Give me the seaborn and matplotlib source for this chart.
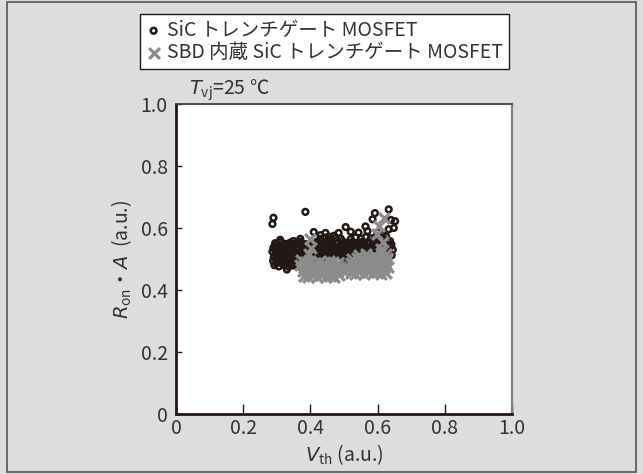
import matplotlib
matplotlib.use('Agg')
import matplotlib.pyplot as plt
from matplotlib.patches import Rectangle
import seaborn as sns
import pandas as pd

# SiC トレンチゲート MOSFET (Vth, Ron*A)
sic_pts = [
    (0.290, 0.633), (0.287, 0.613), (0.385, 0.652), (0.330, 0.466),
    (0.633, 0.660), (0.592, 0.648), (0.585, 0.628), (0.652, 0.622),
    (0.640, 0.626), (0.648, 0.600), (0.633, 0.596), (0.505, 0.603),
    (0.520, 0.588), (0.564, 0.605), (0.484, 0.584), (0.543, 0.585),
    (0.410, 0.587), (0.445, 0.584), (0.470, 0.575), (0.455, 0.572),
    (0.430, 0.577), (0.600, 0.585), (0.615, 0.578), (0.570, 0.590),
    (0.310, 0.562), (0.350, 0.558), (0.370, 0.565),
    (0.642, 0.512), (0.645, 0.530), (0.641, 0.547), (0.637, 0.558),
    (0.293, 0.480), (0.306, 0.476), (0.319, 0.481), (0.334, 0.475),
    (0.348, 0.479), (0.362, 0.477), (0.376, 0.482), (0.389, 0.478),
    (0.299, 0.486), (0.312, 0.488), (0.326, 0.484), (0.340, 0.487),
    (0.354, 0.485), (0.368, 0.489), (0.382, 0.486),
    (0.289, 0.494), (0.301, 0.490), (0.314, 0.496), (0.327, 0.492),
    (0.341, 0.495), (0.355, 0.491), (0.369, 0.494), (0.382, 0.490),
    (0.396, 0.497), (0.500, 0.478), (0.508, 0.490), (0.515, 0.482),
    (0.297, 0.500), (0.310, 0.503), (0.324, 0.499), (0.338, 0.502),
    (0.351, 0.498), (0.365, 0.503), (0.378, 0.500), (0.391, 0.501),
    (0.291, 0.506), (0.304, 0.511), (0.317, 0.504), (0.331, 0.509),
    (0.344, 0.512), (0.358, 0.505), (0.371, 0.508), (0.385, 0.503),
    (0.398, 0.510), (0.412, 0.507), (0.426, 0.512), (0.440, 0.505),
    (0.455, 0.509), (0.470, 0.504), (0.485, 0.511), (0.500, 0.506),
    (0.513, 0.508), (0.527, 0.512), (0.540, 0.503), (0.555, 0.509),
    (0.570, 0.506), (0.585, 0.511), (0.600, 0.505), (0.615, 0.510),
    (0.628, 0.507),
    (0.297, 0.515), (0.311, 0.518), (0.324, 0.514), (0.338, 0.517),
    (0.351, 0.516), (0.365, 0.519), (0.378, 0.513), (0.392, 0.516),
    (0.405, 0.518), (0.419, 0.514), (0.433, 0.517), (0.447, 0.515),
    (0.462, 0.519), (0.477, 0.514), (0.492, 0.516), (0.506, 0.518),
    (0.520, 0.513), (0.534, 0.517), (0.548, 0.515), (0.562, 0.519),
    (0.577, 0.514), (0.592, 0.516), (0.607, 0.518), (0.621, 0.515),
    (0.287, 0.524), (0.300, 0.520), (0.314, 0.526), (0.328, 0.521),
    (0.342, 0.525), (0.356, 0.519), (0.369, 0.523), (0.383, 0.527),
    (0.397, 0.520), (0.410, 0.524), (0.424, 0.518), (0.438, 0.526),
    (0.452, 0.522), (0.466, 0.525), (0.480, 0.520), (0.494, 0.527),
    (0.508, 0.521), (0.522, 0.524), (0.536, 0.519), (0.550, 0.526),
    (0.564, 0.522), (0.578, 0.525), (0.592, 0.520), (0.606, 0.527),
    (0.620, 0.523), (0.634, 0.521),
    (0.294, 0.530), (0.307, 0.533), (0.321, 0.529), (0.335, 0.532),
    (0.349, 0.531), (0.363, 0.534), (0.376, 0.528), (0.390, 0.531),
    (0.404, 0.533), (0.417, 0.529), (0.431, 0.532), (0.445, 0.530),
    (0.459, 0.534), (0.473, 0.529), (0.487, 0.531), (0.501, 0.533),
    (0.515, 0.528), (0.529, 0.532), (0.543, 0.530), (0.557, 0.534),
    (0.571, 0.529), (0.585, 0.531), (0.599, 0.533), (0.613, 0.530),
    (0.290, 0.537), (0.303, 0.541), (0.317, 0.535), (0.331, 0.539),
    (0.345, 0.542), (0.359, 0.536), (0.373, 0.540), (0.387, 0.534),
    (0.400, 0.538), (0.414, 0.543), (0.428, 0.536), (0.442, 0.540),
    (0.456, 0.535), (0.470, 0.541), (0.484, 0.538), (0.498, 0.544),
    (0.512, 0.536), (0.526, 0.539), (0.540, 0.542), (0.554, 0.535),
    (0.568, 0.540), (0.582, 0.537), (0.596, 0.543), (0.610, 0.536),
    (0.624, 0.541), (0.637, 0.538),
    (0.297, 0.544), (0.310, 0.547), (0.324, 0.543), (0.338, 0.546),
    (0.352, 0.545), (0.366, 0.548), (0.380, 0.542), (0.407, 0.546),
    (0.421, 0.548), (0.435, 0.543), (0.449, 0.547), (0.463, 0.545),
    (0.477, 0.549), (0.491, 0.544), (0.505, 0.546), (0.519, 0.548),
    (0.533, 0.543), (0.547, 0.547), (0.561, 0.545), (0.575, 0.549),
    (0.589, 0.544), (0.603, 0.546),
    (0.295, 0.551), (0.310, 0.555), (0.325, 0.549), (0.340, 0.553),
    (0.355, 0.550), (0.370, 0.556), (0.385, 0.548), (0.420, 0.556),
    (0.435, 0.551), (0.450, 0.557), (0.465, 0.553), (0.480, 0.550),
    (0.495, 0.558), (0.510, 0.552), (0.525, 0.555), (0.540, 0.549),
    (0.555, 0.556), (0.570, 0.553), (0.585, 0.558), (0.600, 0.551),
    (0.615, 0.556), (0.630, 0.560),
    (0.430, 0.565), (0.445, 0.569), (0.460, 0.563), (0.475, 0.568),
    (0.490, 0.566), (0.520, 0.564), (0.535, 0.570), (0.550, 0.566),
    (0.565, 0.571), (0.580, 0.567), (0.595, 0.572), (0.610, 0.569),
    (0.625, 0.574),
]

# SBD 内蔵 SiC トレンチゲート MOSFET (Vth, Ron*A)
sbd_pts = [
    (0.380, 0.446), (0.393, 0.442), (0.406, 0.447), (0.419, 0.443),
    (0.432, 0.448), (0.445, 0.441), (0.458, 0.446), (0.471, 0.443),
    (0.484, 0.448),
    (0.377, 0.461), (0.390, 0.458), (0.403, 0.463), (0.416, 0.457),
    (0.429, 0.462), (0.442, 0.459), (0.455, 0.464), (0.468, 0.458),
    (0.481, 0.461), (0.494, 0.463),
    (0.381, 0.476), (0.394, 0.473), (0.407, 0.478), (0.420, 0.474),
    (0.433, 0.477), (0.446, 0.472), (0.459, 0.476), (0.472, 0.479),
    (0.485, 0.474),
    (0.384, 0.489), (0.398, 0.492), (0.412, 0.487), (0.426, 0.491),
    (0.440, 0.488), (0.454, 0.493), (0.468, 0.489), (0.482, 0.486),
    (0.520, 0.456), (0.533, 0.452), (0.546, 0.457), (0.559, 0.453),
    (0.572, 0.458), (0.585, 0.454), (0.598, 0.457), (0.611, 0.452),
    (0.624, 0.456),
    (0.515, 0.471), (0.528, 0.468), (0.541, 0.473), (0.554, 0.467),
    (0.567, 0.472), (0.580, 0.469), (0.593, 0.474), (0.606, 0.468),
    (0.619, 0.471), (0.632, 0.473),
    (0.520, 0.486), (0.533, 0.483), (0.546, 0.488), (0.559, 0.484),
    (0.572, 0.487), (0.585, 0.482), (0.598, 0.486), (0.611, 0.489),
    (0.624, 0.484),
    (0.525, 0.499), (0.540, 0.502), (0.555, 0.498), (0.570, 0.503),
    (0.585, 0.500), (0.600, 0.504), (0.615, 0.499), (0.628, 0.502),
    (0.545, 0.514), (0.565, 0.517), (0.590, 0.513), (0.610, 0.518),
    (0.625, 0.515),
    (0.372, 0.497), (0.370, 0.480), (0.400, 0.565), (0.401, 0.535),
    (0.395, 0.515), (0.615, 0.555), (0.610, 0.532), (0.618, 0.632),
    (0.604, 0.607), (0.597, 0.582),
]

labels = ['SiC トレンチゲート MOSFET', 'SBD 内蔵 SiC トレンチゲート MOSFET']
ticks = [0, 0.2, 0.4, 0.6, 0.8, 1.0]
tick_labels = ['0', '0.2', '0.4', '0.6', '0.8', '1.0']

dark = '#231815'
grey = '#8c8c8c'
bg = '#dcdddd'
txt = '#333333'

sns.set_style('white')
plt.rcParams['font.family'] = ['Noto Sans CJK JP', 'DejaVu Sans']
plt.rcParams['mathtext.fontset'] = 'custom'
plt.rcParams['mathtext.rm'] = 'Noto Sans CJK JP'
plt.rcParams['mathtext.it'] = 'DejaVu Sans:italic'

sic = pd.DataFrame(sic_pts, columns=['vth', 'ron'])
sbd = pd.DataFrame(sbd_pts, columns=['vth', 'ron'])

fig = plt.figure(figsize=(6.43, 4.74), dpi=100, facecolor=bg)
ax = fig.add_axes([0.2737, 0.1266, 0.5226, 0.654])
ax.set_facecolor('white')

sns.scatterplot(data=sic, x='vth', y='ron', marker='o', s=17,
                color=dark, facecolor='none', edgecolor=dark,
                linewidth=1.8, label=labels[0], ax=ax, zorder=2)
sns.scatterplot(data=sbd, x='vth', y='ron', marker='x', s=60,
                color=grey, edgecolor=grey, linewidth=2.3,
                label=labels[1], ax=ax, zorder=3)

ax.set_xlim(0, 1)
ax.set_ylim(0, 1)
ax.set_xticks(ticks)
ax.set_xticklabels(tick_labels)
ax.set_yticks(ticks)
ax.set_yticklabels(tick_labels)
ax.tick_params(axis='both', direction='in', colors=dark, labelcolor=txt,
               labelsize=14, width=1, left=True, bottom=True)
ax.tick_params(axis='x', length=7, pad=3)
ax.tick_params(axis='y', length=4, pad=6)

ax.spines['left'].set_color(dark)
ax.spines['left'].set_linewidth(2.0)
ax.spines['bottom'].set_color(dark)
ax.spines['bottom'].set_linewidth(2.0)
ax.spines['top'].set_color('#444444')
ax.spines['top'].set_linewidth(1.3)
ax.spines['right'].set_color('#7f7f7f')
ax.spines['right'].set_linewidth(1.6)

ax.set_xlabel(r'$V_{\rm th}$ (a.u.)', fontsize=14, color=txt, labelpad=2)
ax.set_ylabel(r'$R_{\rm on}$・$A$  (a.u.)', fontsize=14, color=txt, labelpad=5)

ax.text(0.04, 1.008, r'$T_{\rm vj}$=25 ℃', transform=ax.transAxes,
        fontsize=14, color=txt, ha='left', va='bottom')

handles, labs = ax.get_legend_handles_labels()
ax.get_legend().remove()
leg = fig.legend(handles, labs, loc='upper left',
                 bbox_to_anchor=(140 / 643, 1 - 14 / 474),
                 fontsize=14, frameon=True, fancybox=False,
                 edgecolor=dark, facecolor='white', framealpha=1,
                 borderpad=0.3, labelspacing=0.05, handletextpad=0.3,
                 handlelength=0.8, borderaxespad=0)
leg.get_frame().set_linewidth(1.0)
for t in leg.get_texts():
    t.set_color(txt)

fig.patches.append(Rectangle((7 / 643, 2 / 474), 629 / 643, 470 / 474,
                             transform=fig.transFigure, fill=False,
                             edgecolor='#555555', linewidth=1.2))

fig.savefig('out.png', dpi=100, facecolor=bg)
